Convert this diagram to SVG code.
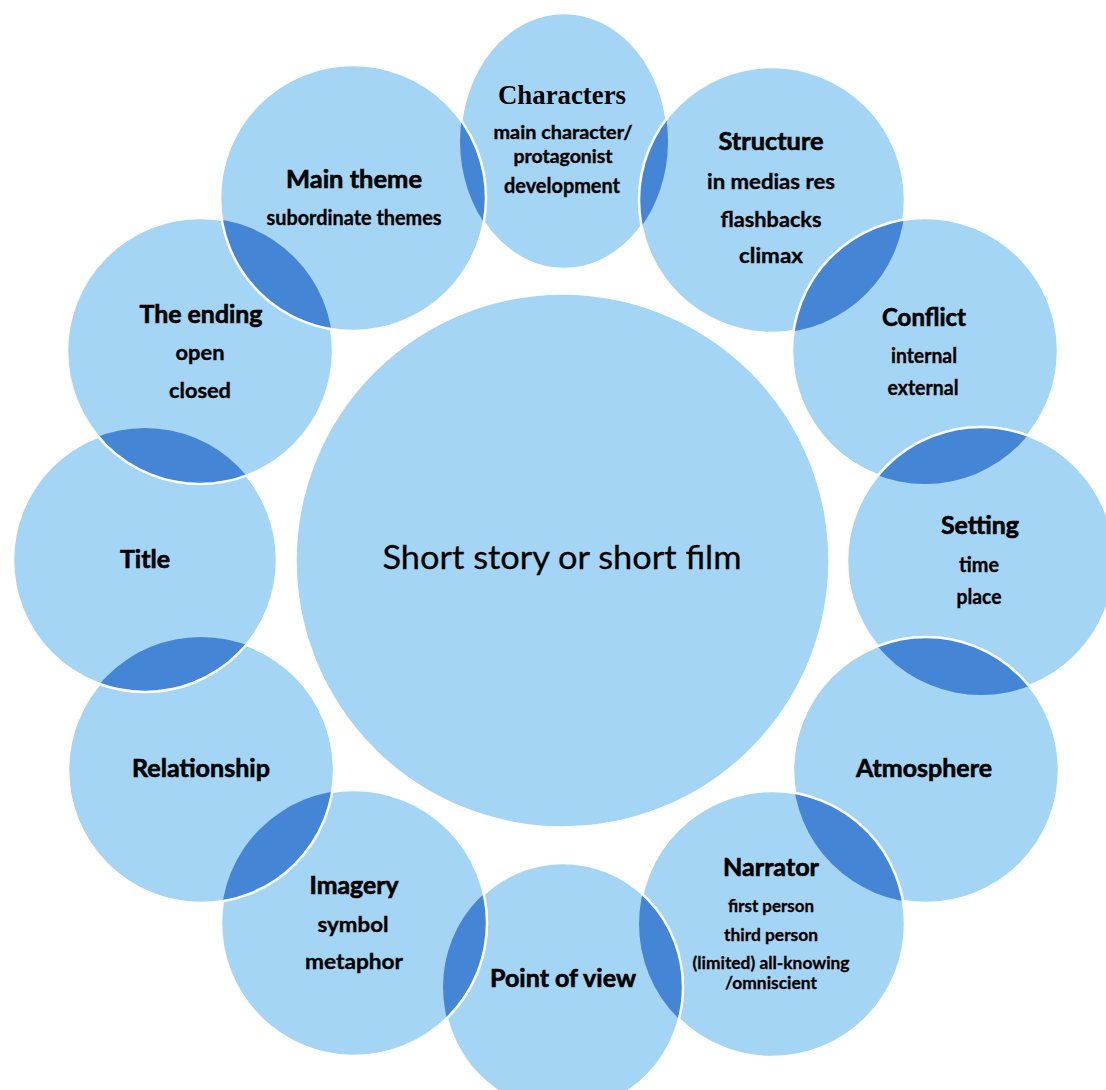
<svg xmlns="http://www.w3.org/2000/svg" width="1106" height="1090" viewBox="0 0 1106 1090">
<style>
.c{fill:#a5d5f5;}
.lens{fill:#4585d6;}
.edge{fill:none;stroke:#ffffff;stroke-width:2.5;}
.h{font-family:Lato,"Liberation Sans",sans-serif;font-weight:bold;font-size:24px;fill:#000;stroke:#000;stroke-width:0.6;text-anchor:middle;}
.s{font-family:Lato,"Liberation Sans",sans-serif;font-weight:bold;font-size:21px;fill:#000;stroke:#000;stroke-width:0.35;text-anchor:middle;}
.sc{font-family:Lato,"Liberation Sans",sans-serif;font-weight:bold;font-size:18px;fill:#000;stroke:#000;stroke-width:0.35;text-anchor:middle;}
.n{font-family:Lato,"Liberation Sans",sans-serif;font-weight:bold;font-size:17px;fill:#000;stroke:#000;stroke-width:0.3;text-anchor:middle;}
.serif{font-family:"Liberation Serif","Times New Roman",serif;font-weight:bold;font-size:27px;fill:#000;text-anchor:middle;}
.center{font-family:Lato,"Liberation Sans",sans-serif;font-size:33px;fill:#000;stroke:#000;stroke-width:0.3;text-anchor:middle;}
</style>
<defs>
<clipPath id="k-characters"><ellipse cx="564" cy="141" rx="104" ry="128"/></clipPath>
<clipPath id="k-structure"><circle cx="772" cy="200" r="133"/></clipPath>
<clipPath id="k-conflict"><circle cx="925" cy="351" r="133"/></clipPath>
<clipPath id="k-setting"><circle cx="981" cy="561" r="134"/></clipPath>
<clipPath id="k-atmosphere"><circle cx="926" cy="770" r="133"/></clipPath>
<clipPath id="k-narrator"><circle cx="772" cy="924" r="133"/></clipPath>
<clipPath id="k-pov"><ellipse cx="563" cy="987" rx="120" ry="124"/></clipPath>
<clipPath id="k-imagery"><circle cx="354" cy="923" r="133"/></clipPath>
<clipPath id="k-relationship"><circle cx="201" cy="770" r="133"/></clipPath>
<clipPath id="k-title"><circle cx="145" cy="560" r="132"/></clipPath>
<clipPath id="k-ending"><circle cx="200" cy="351" r="133"/></clipPath>
</defs>
<rect x="0" y="0" width="1106" height="1090" fill="#ffffff"/>

<g id="center">
<circle class="c" cx="562.5" cy="560.5" r="267"/>
<circle class="edge" cx="562.5" cy="560.5" r="267"/>
<text class="center" x="562" y="569" textLength="359" lengthAdjust="spacingAndGlyphs">Short story or short film</text>
</g>

<g id="characters">
<ellipse class="c" cx="564" cy="141" rx="104" ry="128"/>
<ellipse class="edge" cx="564" cy="141" rx="104" ry="128"/>
<text class="serif" x="562" y="104" textLength="128" lengthAdjust="spacingAndGlyphs">Characters</text>
<text class="sc" x="563" y="139" textLength="139" lengthAdjust="spacingAndGlyphs">main character/</text>
<text class="sc" x="563" y="163" textLength="99" lengthAdjust="spacingAndGlyphs">protagonist</text>
<text class="s" x="562" y="193" textLength="116" lengthAdjust="spacingAndGlyphs">development</text>
</g>

<g id="structure">
<circle class="c" cx="772" cy="200" r="133"/>
<circle class="lens" cx="772" cy="200" r="133" clip-path="url(#k-characters)"/>
<circle class="edge" cx="772" cy="200" r="133"/>
<text class="h" x="771" y="150" textLength="105" lengthAdjust="spacingAndGlyphs">Structure</text>
<text class="s" x="771" y="189" textLength="128" lengthAdjust="spacingAndGlyphs">in medias res</text>
<text class="s" x="771" y="227" textLength="101" lengthAdjust="spacingAndGlyphs">flashbacks</text>
<text class="s" x="771" y="263" textLength="64" lengthAdjust="spacingAndGlyphs">climax</text>
</g>

<g id="conflict">
<circle class="c" cx="925" cy="351" r="133"/>
<circle class="lens" cx="925" cy="351" r="133" clip-path="url(#k-structure)"/>
<circle class="edge" cx="925" cy="351" r="133"/>
<text class="h" x="924" y="326" textLength="84" lengthAdjust="spacingAndGlyphs">Conflict</text>
<text class="s" x="924" y="363" textLength="66" lengthAdjust="spacingAndGlyphs">internal</text>
<text class="s" x="923" y="395" textLength="71" lengthAdjust="spacingAndGlyphs">external</text>
</g>

<g id="setting">
<circle class="c" cx="981" cy="561" r="134"/>
<circle class="lens" cx="981" cy="561" r="134" clip-path="url(#k-conflict)"/>
<circle class="edge" cx="981" cy="561" r="134"/>
<text class="h" x="980" y="534" textLength="78" lengthAdjust="spacingAndGlyphs">Setting</text>
<text class="s" x="979" y="572" textLength="40" lengthAdjust="spacingAndGlyphs">time</text>
<text class="s" x="979" y="604" textLength="45" lengthAdjust="spacingAndGlyphs">place</text>
</g>

<g id="atmosphere">
<circle class="c" cx="926" cy="770" r="133"/>
<circle class="lens" cx="926" cy="770" r="133" clip-path="url(#k-setting)"/>
<circle class="edge" cx="926" cy="770" r="133"/>
<text class="h" x="924" y="777" textLength="136" lengthAdjust="spacingAndGlyphs">Atmosphere</text>
</g>

<g id="narrator">
<circle class="c" cx="772" cy="924" r="133"/>
<circle class="lens" cx="772" cy="924" r="133" clip-path="url(#k-atmosphere)"/>
<circle class="edge" cx="772" cy="924" r="133"/>
<text class="h" x="771" y="876" textLength="96" lengthAdjust="spacingAndGlyphs">Narrator</text>
<text class="n" x="771" y="912" textLength="86" lengthAdjust="spacingAndGlyphs">first person</text>
<text class="n" x="771" y="941" textLength="94" lengthAdjust="spacingAndGlyphs">third person</text>
<text class="n" x="771" y="969" textLength="157" lengthAdjust="spacingAndGlyphs">(limited) all-knowing</text>
<text class="n" x="771" y="989" textLength="92" lengthAdjust="spacingAndGlyphs">/omniscient</text>
</g>

<g id="point-of-view">
<ellipse class="c" cx="563" cy="987" rx="120" ry="124"/>
<ellipse class="lens" cx="563" cy="987" rx="120" ry="124" clip-path="url(#k-narrator)"/>
<ellipse class="edge" cx="563" cy="987" rx="120" ry="124"/>
<text class="h" x="563" y="987" textLength="146" lengthAdjust="spacingAndGlyphs">Point of view</text>
</g>

<g id="imagery">
<circle class="c" cx="354" cy="923" r="133"/>
<circle class="lens" cx="354" cy="923" r="133" clip-path="url(#k-pov)"/>
<circle class="edge" cx="354" cy="923" r="133"/>
<text class="h" x="354" y="894" textLength="89" lengthAdjust="spacingAndGlyphs">Imagery</text>
<text class="s" x="353" y="932" textLength="71" lengthAdjust="spacingAndGlyphs">symbol</text>
<text class="s" x="354" y="969" textLength="98" lengthAdjust="spacingAndGlyphs">metaphor</text>
</g>

<g id="relationship">
<circle class="c" cx="201" cy="770" r="133"/>
<circle class="lens" cx="201" cy="770" r="133" clip-path="url(#k-imagery)"/>
<circle class="edge" cx="201" cy="770" r="133"/>
<text class="h" x="201" y="777" textLength="138" lengthAdjust="spacingAndGlyphs">Relationship</text>
</g>

<g id="title">
<circle class="c" cx="145" cy="560" r="132"/>
<circle class="lens" cx="145" cy="560" r="132" clip-path="url(#k-relationship)"/>
<circle class="edge" cx="145" cy="560" r="132"/>
<text class="h" x="145" y="568" textLength="50" lengthAdjust="spacingAndGlyphs">Title</text>
</g>

<g id="the-ending">
<circle class="c" cx="200" cy="351" r="133"/>
<circle class="lens" cx="200" cy="351" r="133" clip-path="url(#k-title)"/>
<circle class="edge" cx="200" cy="351" r="133"/>
<text class="h" x="201" y="323" textLength="123" lengthAdjust="spacingAndGlyphs">The ending</text>
<text class="s" x="200" y="360" textLength="49" lengthAdjust="spacingAndGlyphs">open</text>
<text class="s" x="200" y="398" textLength="62" lengthAdjust="spacingAndGlyphs">closed</text>
</g>

<g id="main-theme">
<circle class="c" cx="353" cy="198" r="133"/>
<circle class="lens" cx="353" cy="198" r="133" clip-path="url(#k-ending)"/>
<circle class="lens" cx="353" cy="198" r="133" clip-path="url(#k-characters)"/>
<circle class="edge" cx="353" cy="198" r="133"/>
<text class="h" x="354" y="188" textLength="136" lengthAdjust="spacingAndGlyphs">Main theme</text>
<text class="s" x="354" y="225" textLength="175" lengthAdjust="spacingAndGlyphs">subordinate themes</text>
</g>

<g id="connectors"></g>
</svg>
